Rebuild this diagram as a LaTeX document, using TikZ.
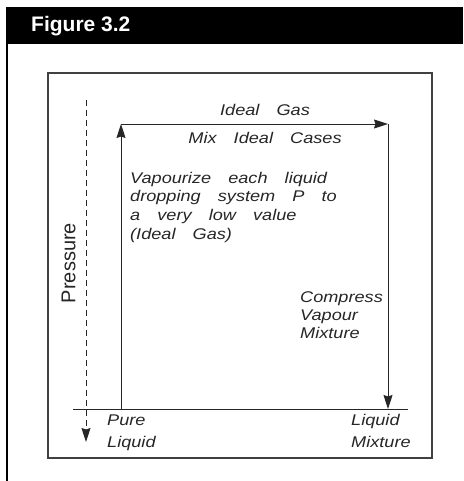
\documentclass[tikz,border=0pt]{standalone}
\usepackage{fontspec}
\setmainfont{Liberation Sans}
\newfontfamily\figfont[FakeStretch=1.17,WordSpace=3.4]{Liberation Sans}
\usetikzlibrary{arrows.meta}

\begin{document}
\begin{tikzpicture}[x=1pt,y=-1pt,
  lbl/.style={font=\figfont\itshape\fontsize{15.5}{18}\selectfont, inner sep=0pt, text=black!85},
  route/.style={draw=black!85, line width=0.9pt, -{Stealth[length=14pt,width=9pt,inset=1.5pt]}}]
  \useasboundingbox (0,0) rectangle (463,481);
  \fill (6,7) rectangle (463,44);
  \draw[line width=2.3pt] (7.2,44) -- (7.2,481);
  \node[anchor=base west, inner sep=0pt, text=white, font=\bfseries\fontsize{21}{25}\selectfont]
    (title) at (31,32) {Figure 3.2};
  \draw[black!75, line width=1.2pt] (48,73) rectangle (432,458);
  % pressure axis
  \coordinate (ptop) at (86,100);
  \coordinate (pbot) at (86,442);
  \draw[route, dash pattern=on 6pt off 4pt] (ptop) -- (pbot);
  \node[rotate=90, inner sep=0pt, text=black!85, font=\fontsize{20}{24}\selectfont] (pressure) at (68.5,263) {Pressure};
  \coordinate (ax0) at (73,409);
  \coordinate (ax1) at (408,409);
  \draw[black!85, line width=0.9pt] (ax0) -- (ax1);
  % cycle
  \coordinate (pl) at (121,409);
  \coordinate (gl) at (121,124);
  \coordinate (gr) at (388,124);
  \coordinate (lm) at (388,409);
  \draw[route] (pl) -- (gl);
  \draw[route] (gl) -- (gr);
  \draw[route] (gr) -- (lm);
  \node[lbl, anchor=base] (idealgas) at (265,116) {Ideal Gas};
  \node[lbl, anchor=base] (mixideal) at (265,143) {Mix Ideal Cases};
  \foreach \t [count=\i from 0] in {Vapourize each liquid, dropping system P to, a very low value, {(Ideal Gas)}}
    \node[lbl, anchor=base west] (vap\i) at (130,183+18.7*\i) {\t};
  \foreach \t [count=\i from 0] in {Compress, Vapour, Mixture}
    \node[lbl, anchor=base west] (comp\i) at (300,302+18*\i) {\t};
  \foreach \x/\a/\b in {107/Pure/Liquid, 351/Liquid/Mixture}
    {\node[lbl, anchor=base west] (top\x) at (\x,425) {\a};
     \node[lbl, anchor=base west] (bot\x) at (\x,447) {\b};}
\end{tikzpicture}
\end{document}
